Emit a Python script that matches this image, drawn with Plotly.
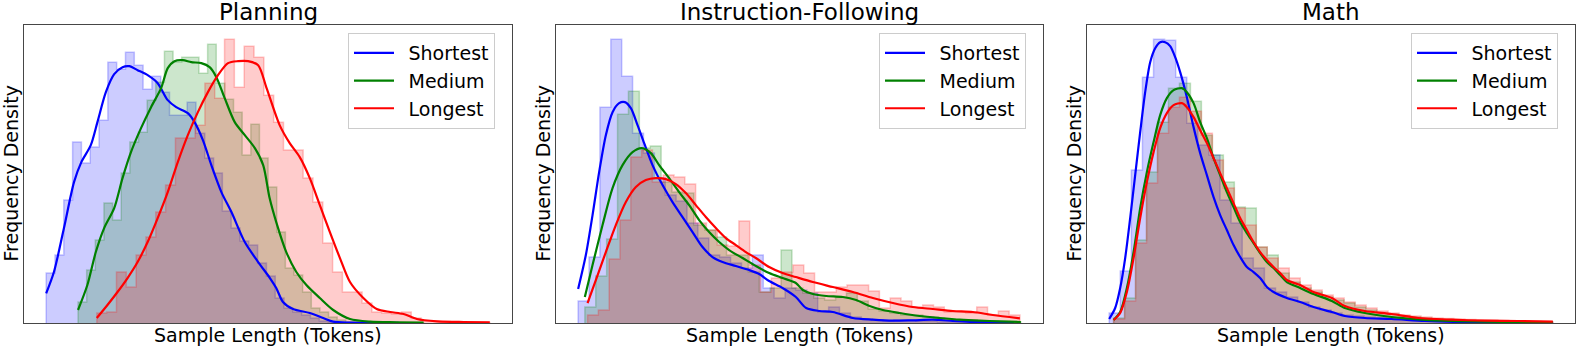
import plotly.graph_objects as go

# The source figure hides all ticks, so lengths and densities below are
# relative units (x: sample length, y: density).

TITLES = ["Planning", "Instruction-Following", "Math"]
SERIES = ["Shortest", "Medium", "Longest"]
COLORS = [(0, 0, 255), (0, 128, 0), (255, 0, 0)]

# ---- Planning -------------------------------------------------------
PLAN_SHORT_BINS = (22.3, 8.77)  # first bin edge, bin width
PLAN_SHORT_HIST = [50, 68, 123, 181, 160, 176, 203, 261, 254, 271, 258, 234, 247, 231, 208, 208,
                   221, 190, 165, 150, 112, 95, 82, 78, 60, 47, 25, 15, 11, 8, 5, 2, 1, 0.5, 0.5,
                   0.3, 0, 0.3, 0, 0.3]
PLAN_MED_BINS = (54.0, 8.6)
PLAN_MED_HIST = [21, 53, 83, 120, 103, 150, 181, 191, 223, 241, 272, 261, 266, 266, 250, 279, 240,
                 224, 211, 168, 199, 165, 136, 91, 55, 48, 31, 15, 11, 6, 3, 1.3, 1, 0.7, 0.5, 0.5,
                 0.3, 0.3, 0.3, 0.3]
PLAN_LONG_BINS = (72.7, 9.78)
PLAN_LONG_HIST = [10, 11, 51, 36, 68, 86, 111, 138, 185, 185, 198, 240, 225, 284, 236, 277, 266,
                  228, 201, 173, 173, 145, 121, 80, 51, 31, 31, 20, 11, 10, 9, 11, 5, 2.3, 2, 1.5,
                  1, 0.7, 0.7, 0.5]

PLAN_SHORT_KDE_X = [22.3, 30, 40, 50, 57.3, 66.7, 73.3, 81.7, 90, 98.3, 105, 113.3, 123.3, 133.3,
                    143.3, 151.7, 163.3, 170, 178.3, 186.7, 196.7, 206.7, 220, 233.3, 245, 251.3,
                    258, 268, 284.7, 298, 308, 324.7, 345, 373.1]
PLAN_SHORT_KDE_Y = [29.7, 51, 95, 141, 161, 178, 201, 231, 249, 256, 257, 253, 248, 240, 223, 216,
                    210, 201, 183, 158, 131, 111, 81, 61, 45, 35, 21, 14, 10, 5, 1.3, 0.3, 0.2, 0.1]
PLAN_MED_KDE_X = [54, 63.3, 71.7, 80, 90, 98.3, 106.7, 116.7, 126.7, 136.7, 143.3, 150, 158.3,
                  166.7, 176.7, 185, 191.7, 200, 210, 220, 230, 238.3, 244.7, 251.3, 261.3, 271.3,
                  281.3, 294.7, 308, 324.7, 344.7, 371.3, 398]
PLAN_MED_KDE_Y = [13, 38, 71, 95, 115, 145, 171, 195, 216, 235, 255, 262, 263, 261, 260, 256, 246,
                  225, 201, 188, 175, 158, 125, 101, 71, 51, 38, 25, 13, 4, 1.3, 0.7, 0.3]
PLAN_LONG_KDE_X = [72.7, 83.3, 93.3, 103.3, 113.3, 123.3, 133.3, 143.3, 153.3, 163.3, 173.3,
                   183.3, 193.3, 203.3, 213.3, 223.3, 233.3, 241.7, 254.7, 264.7, 274.7, 284.7,
                   294.7, 304.7, 314.7, 324.7, 338, 351.3, 364.7, 378, 391.3, 411.3, 438, 463.9]
PLAN_LONG_KDE_Y = [5, 18, 31, 45, 61, 81, 105, 131, 161, 188, 211, 231, 248, 260, 262, 262, 258,
                   235, 198, 180, 166, 145, 118, 91, 65, 41, 25, 14, 11, 9, 4, 1.7, 1, 0.7]

# ---- Instruction-Following -----------------------------------------
INST_SHORT_BINS = (22.3, 10.89)
INST_SHORT_HIST = [22, 66, 216, 284, 247, 190, 170, 145, 128, 122, 100, 85, 68, 66, 60, 55, 68, 35,
                   25, 35, 33, 30, 11, 16, 10, 6, 4, 3, 2, 3, 3, 2, 2, 1, 1, 0.5, 0.5, 0.5, 0.5, 0.3]
INST_MED_BINS = (29.0, 10.9)
INST_MED_HIST = [16, 47, 84, 209, 232, 175, 177, 141, 131, 130, 98, 93, 86, 68, 68, 51, 31, 35, 73,
                 35, 30, 25, 23, 26, 30, 22, 14, 12, 10, 8, 8, 6, 5, 4, 3, 3, 2, 2, 1.5, 1]
INST_LONG_BINS = (31.7, 10.81)
INST_LONG_HIST = [8, 13, 64, 103, 166, 173, 141, 148, 146, 139, 100, 93, 78, 77, 102, 58, 31, 45,
                  51, 58, 50, 31, 31, 36, 38, 38, 32, 15, 25, 22, 16, 18, 16, 11, 11, 10, 16, 8,
                  12, 8]

INST_SHORT_KDE_X = [22.3, 30, 36.7, 43.3, 50, 56.7, 63.3, 69, 75, 81.7, 88.3, 96.7, 106.7, 116.7,
                    126.7, 136.7, 146.7, 156.7, 166.7, 180, 193.3, 203.3, 213.3, 226.7, 240,
                    250.3, 263.7, 277, 297, 317, 337, 357, 377, 397, 417, 437, 458]
INST_SHORT_KDE_Y = [34, 68, 108, 151, 188, 211, 220, 221, 215, 198, 180, 158, 138, 121, 106, 91,
                    76, 66, 61, 57, 53, 49, 42, 35, 26, 15, 12, 11, 5, 3.3, 2.3, 2.7, 3.3, 2, 1,
                    0.7, 0.3]
INST_MED_KDE_X = [29, 36.7, 46.7, 56.7, 66.7, 76.7, 86, 95, 103.3, 113.3, 123.3, 133.3, 143.3,
                  153.3, 163.3, 173.3, 186.7, 200, 213.3, 226.7, 240, 247, 257, 270.3, 287, 300.3,
                  313.7, 327, 343.7, 363.7, 383.7, 403.7, 423.7, 443.7, 465]
INST_MED_KDE_Y = [26, 58, 98, 135, 158, 171, 175, 170, 158, 145, 131, 118, 103, 91, 81, 73, 65, 57,
                  50, 45, 40, 33, 29, 27, 26, 23, 17, 13, 10, 7, 5, 3.3, 2.3, 1.7, 1]
INST_LONG_KDE_X = [31.7, 40, 50, 60, 70, 80, 90, 100, 110, 120, 130, 140, 150, 160, 170, 180, 190,
                   200, 213.3, 226.7, 240, 257, 277, 297, 317, 337, 357, 377, 397, 417, 437, 464]
INST_LONG_KDE_Y = [20, 43, 71, 98, 121, 136, 143, 145, 144, 139, 130, 118, 106, 95, 85, 78, 71, 65,
                   56, 50, 46, 41, 36, 31, 25, 20, 16, 14, 12, 11, 8, 4.7]

# ---- Math -----------------------------------------------------------
MATH_SHORT_BINS = (22.3, 11.09)
MATH_SHORT_HIST = [10, 52, 153, 246, 284, 283, 246, 200, 178, 168, 123, 100, 65, 55, 35, 31, 26,
                   21, 16, 13, 10, 8, 7, 6, 5, 4, 4, 3, 3, 2, 2, 1.5, 1.5, 1, 1, 0.7, 0.5, 0.5,
                   0.5, 0.3]
MATH_MED_BINS = (26.7, 10.98)
MATH_MED_HIST = [5, 25, 83, 151, 201, 235, 240, 222, 188, 168, 141, 116, 115, 76, 68, 50, 41, 35,
                 31, 26, 23, 20, 16, 13, 10, 9, 7, 6, 5, 4, 3.5, 3, 2.5, 2, 2, 1.5, 1.3, 1, 1, 0.7]
MATH_LONG_BINS = (26.7, 10.98)
MATH_LONG_HIST = [4, 22, 80, 140, 190, 216, 226, 212, 190, 163, 135, 115, 98, 76, 65, 55, 45, 38,
                  33, 28, 25, 21, 18, 15, 12, 10, 8, 7, 6, 5, 4.5, 4, 3.5, 3, 3, 2.5, 2, 2, 1.5,
                  1.3]

MATH_SHORT_KDE_X = [22.3, 28.3, 33.3, 38.3, 43.3, 48.3, 53.3, 58.3, 63.3, 68.3, 73.3, 78.3, 83.3,
                    88.3, 93.3, 100, 106.7, 113.3, 120, 126.7, 133.3, 140, 146.7, 153.3, 160,
                    166.7, 173.3, 180, 186.7, 200, 213.3, 226.7, 245, 258, 278, 304.7, 338,
                    371.3, 404.7, 438, 466]
MATH_SHORT_KDE_Y = [4, 15, 35, 65, 105, 148, 191, 231, 261, 275, 281, 281, 277, 266, 251, 226, 196,
                    170, 148, 126, 108, 93, 78, 66, 56, 51, 45, 36, 31, 25, 21, 16, 11, 7, 5, 4,
                    2, 1, 0.7, 0.3, 0.3]
MATH_KDE_X = [26.7, 33.3, 40, 46.7, 53.3, 60, 66.7, 73.3, 80, 86.7, 95, 100, 106.7, 113.3, 120,
              126.7, 133.3, 140, 146.7, 153.3, 160, 166.7, 173.3, 180, 186.7, 193.3, 200, 213.3,
              226.7, 245, 258, 278, 304.7, 331.3, 364.7, 398, 431.3, 466]
MATH_MED_KDE_Y = [3, 11, 35, 71, 115, 151, 181, 208, 225, 233, 235, 231, 220, 201, 185, 165, 148,
                  131, 116, 101, 90, 80, 70, 61, 55, 48, 41, 35, 29, 22, 15, 10, 6, 3.7, 2, 1.3,
                  1, 0.7]
MATH_LONG_KDE_Y = [3, 10, 31, 65, 105, 141, 171, 195, 210, 218, 220, 216, 206, 193, 180, 165, 150,
                   135, 120, 105, 93, 81, 71, 63, 56, 50, 43, 38, 31, 25, 17, 12, 9, 5, 3.3, 2.3,
                   2, 1.3]

PANELS = [
    [(PLAN_SHORT_BINS, PLAN_SHORT_HIST, PLAN_SHORT_KDE_X, PLAN_SHORT_KDE_Y),
     (PLAN_MED_BINS, PLAN_MED_HIST, PLAN_MED_KDE_X, PLAN_MED_KDE_Y),
     (PLAN_LONG_BINS, PLAN_LONG_HIST, PLAN_LONG_KDE_X, PLAN_LONG_KDE_Y)],
    [(INST_SHORT_BINS, INST_SHORT_HIST, INST_SHORT_KDE_X, INST_SHORT_KDE_Y),
     (INST_MED_BINS, INST_MED_HIST, INST_MED_KDE_X, INST_MED_KDE_Y),
     (INST_LONG_BINS, INST_LONG_HIST, INST_LONG_KDE_X, INST_LONG_KDE_Y)],
    [(MATH_SHORT_BINS, MATH_SHORT_HIST, MATH_SHORT_KDE_X, MATH_SHORT_KDE_Y),
     (MATH_MED_BINS, MATH_MED_HIST, MATH_KDE_X, MATH_MED_KDE_Y),
     (MATH_LONG_BINS, MATH_LONG_HIST, MATH_KDE_X, MATH_LONG_KDE_Y)],
]

# figure geometry (pixels)
W, H = 1578, 349
ML, MR, MT, MB = 24, 3, 25, 26
PLOT_W = W - ML - MR
PLOT_H = H - MT - MB
PANEL_LEFT = [24, 556, 1087]
PANEL_RIGHT = [512, 1043, 1575]
FONT = "DejaVu Sans"


def px_x(px):
    return (px - ML) / PLOT_W


def rgba(c, a):
    return f"rgba({c[0]},{c[1]},{c[2]},{a})"


fig = go.Figure()
layout = dict(annotations=[])

for p, series in enumerate(PANELS):
    ax = "" if p == 0 else str(p + 1)
    xref, yref = "x" + ax, "y" + ax
    legend_name = "legend" + ax

    xmin, xmax, ymax = 1e9, -1e9, 0
    # step-filled histograms first
    for s, (bins, heights, kx, ky) in enumerate(series):
        start, width = bins
        edges = [start + i * width for i in range(len(heights) + 1)]
        hx = [edges[0]] + edges[:-1] + [edges[-1], edges[-1]]
        hy = [0] + heights + [heights[-1], 0]
        fig.add_trace(go.Scatter(
            x=hx, y=hy, mode="lines", line=dict(shape="hv", color=rgba(COLORS[s], 0.22), width=1.5),
            fill="tozeroy", fillcolor=rgba(COLORS[s], 0.2),
            xaxis=xref, yaxis=yref, showlegend=False, hoverinfo="skip",
            legendgroup=f"{p}-{s}", legend=legend_name,
        ))
        xmin, xmax = min(xmin, edges[0], kx[0]), max(xmax, edges[-1], kx[-1])
        ymax = max(ymax, max(heights), max(ky))

    # KDE curves on top
    for s, (bins, heights, kx, ky) in enumerate(series):
        fig.add_trace(go.Scatter(
            x=kx, y=ky, mode="lines", name="\u2002" + SERIES[s],
            line=dict(color=rgba(COLORS[s], 1), width=2.2, shape="spline", smoothing=0.8),
            xaxis=xref, yaxis=yref, legendgroup=f"{p}-{s}", legend=legend_name,
        ))

    pad = (xmax - xmin) * 0.05
    dom = [px_x(PANEL_LEFT[p]), px_x(PANEL_RIGHT[p])]
    axis_style = dict(showticklabels=False, ticks="", showgrid=False, zeroline=False,
                      showline=True, mirror=True, linecolor="rgb(70,70,70)", linewidth=1,
                      automargin=False)
    layout["xaxis" + ax] = dict(domain=dom, range=[xmin - pad, xmax + pad], anchor=yref, **axis_style)
    layout["yaxis" + ax] = dict(domain=[0, 1], range=[0, ymax * 1.05], anchor=xref, **axis_style)

    layout[legend_name] = dict(
        x=px_x(PANEL_RIGHT[p] - 17), y=1 - 8 / PLOT_H, xanchor="right", yanchor="top",
        bgcolor="rgba(255,255,255,0.8)", bordercolor="rgb(204,204,204)", borderwidth=1,
        font=dict(family=FONT, size=19, color="black"), itemwidth=40, tracegroupgap=0,
    )

    center = (dom[0] + dom[1]) / 2
    layout["annotations"] += [
        dict(text=TITLES[p], x=center, y=1 + 13.2 / PLOT_H, xref="paper", yref="paper",
             xanchor="center", yanchor="middle", showarrow=False,
             font=dict(family=FONT, size=23, color="black")),
        dict(text="Sample Length (Tokens)", x=center, y=-11.5 / PLOT_H, xref="paper", yref="paper",
             xanchor="center", yanchor="middle", showarrow=False,
             font=dict(family=FONT, size=19, color="black")),
        dict(text="Frequency Density", x=px_x(PANEL_LEFT[p] - 13.5), y=0.5, xref="paper",
             yref="paper", xanchor="center", yanchor="middle", textangle=-90, showarrow=False,
             font=dict(family=FONT, size=19, color="black")),
    ]

fig.update_layout(
    width=W, height=H,
    margin=dict(l=ML, r=MR, t=MT, b=MB),
    plot_bgcolor="white", paper_bgcolor="white",
    font=dict(family=FONT, color="black"),
    **layout,
)

# the page body has a default 8px margin; drop it so the figure fills the window
fig.write_html("out.html", config={"displayModeBar": False},
               post_script="document.body.style.margin='0';"
                           "document.body.style.overflow='hidden';")
